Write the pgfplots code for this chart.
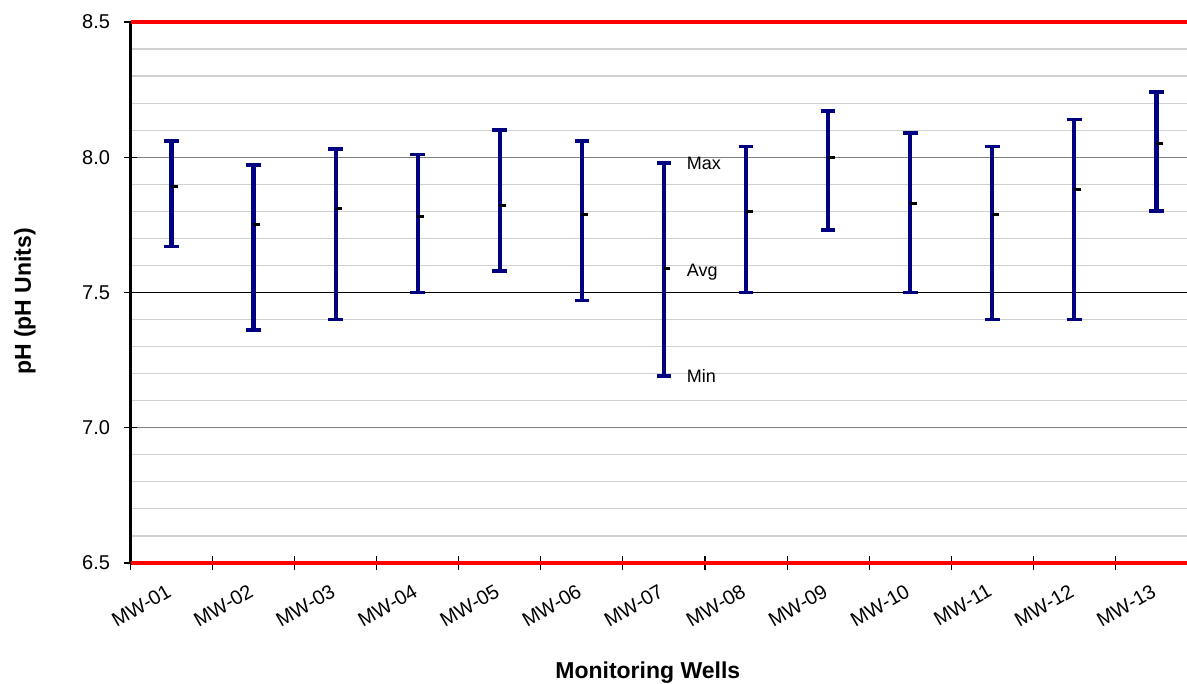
\documentclass[border=0pt]{standalone}
\usepackage{fontspec}
\setmainfont{Liberation Sans}
\usepackage{pgfplots}
\pgfplotsset{compat=1.18}
\usepackage{pgfplotstable}
\definecolor{navyb}{RGB}{0,0,128}
\definecolor{mgrid}{RGB}{128,128,128}
\definecolor{ngrid}{RGB}{208,208,208}
\pgfplotstableread{
x avg min max
0 7.89 7.67 8.06
1 7.75 7.36 7.97
2 7.81 7.40 8.03
3 7.78 7.50 8.01
4 7.82 7.58 8.10
5 7.79 7.47 8.06
6 7.59 7.19 7.98
7 7.80 7.50 8.04
8 8.00 7.73 8.17
9 7.83 7.50 8.09
10 7.79 7.40 8.04
11 7.88 7.40 8.14
12 8.05 7.80 8.24
}\ph
\begin{document}
\begin{tikzpicture}
\useasboundingbox (0,0) rectangle (890.25pt,513pt);
\begin{axis}[
  at={(97.875pt,90.75pt)}, anchor=south west,
  scale only axis, width=792.375pt, height=405.75pt,
  xmin=-0.5, xmax=12.373, ymin=6.5, ymax=8.5,
  clip=false,
  axis x line=bottom, axis y line=left,
  axis line style={-, black, line width=1.7pt},
  tick align=center, major tick length=9.75pt, minor tick length=0pt,
  tick style={black, line width=0.8pt},
  xtick={-0.5,0.5,1.5,2.5,3.5,4.5,5.5,6.5,7.5,8.5,9.5,10.5,11.5}, xticklabels={},
  extra x ticks={0,1,2,3,4,5,6,7,8,9,10,11,12},
  extra x tick labels={MW-01,MW-02,MW-03,MW-04,MW-05,MW-06,MW-07,MW-08,MW-09,MW-10,MW-11,MW-12,MW-13},
  extra x tick style={major tick length=0pt, tick style={draw=none},
     tick label style={yshift=-15pt, xshift=-4.5pt, rotate=30, anchor=north east, inner sep=0pt}},
  ytick={6.5,7,7.5,8,8.5}, minor y tick num=4,
  ymajorgrids, yminorgrids,
  major grid style={mgrid, line width=0.9pt},
  minor grid style={ngrid, line width=0.9pt},
  tick label style={font=\fontsize{15}{18}\selectfont},
  yticklabel style={xshift=-7pt, /pgf/number format/.cd, fixed, fixed zerofill, precision=1, assume math mode=true},
  xlabel={Monitoring Wells},
  xlabel style={at={(rel axis cs:0.4896,-0.2144)}, anchor=base, font=\fontsize{17.25}{20}\selectfont\bfseries},
  ylabel={pH (pH Units)},
  ylabel style={at={(rel axis cs:-0.0999,0.4834)}, anchor=center, font=\fontsize{17.25}{20}\selectfont\bfseries},
]
\addplot[black, line width=0.9pt, forget plot] coordinates {(-0.5,7.5) (12.373,7.5)};
\addplot[red, line width=3pt, forget plot] coordinates {(-0.5,8.5) (12.373,8.5)};
\addplot[red, line width=3pt, forget plot] coordinates {(-0.5,6.5) (12.373,6.5)};
\addplot[draw=none, mark=none, forget plot,
  error bars/.cd, y dir=both, y explicit,
  error bar style={draw=navyb, line width=3.2pt},
  error mark options={draw=navyb, rotate=90, line width=2.8pt, mark size=5.5pt}]
  table[x=x, y=avg, y error plus expr=\thisrow{max}-\thisrow{avg}, y error minus expr=\thisrow{avg}-\thisrow{min}] {\ph};
\addplot[only marks, mark=-, mark size=2.6pt, mark options={black, line width=2.25pt, xshift=2.25pt}]
  table[x=x, y=avg] {\ph};
\node[anchor=base west, inner sep=0pt, font=\fontsize{13.5}{16}\selectfont] at (axis cs:6.277,7.956) {Max};
\node[anchor=base west, inner sep=0pt, font=\fontsize{13.5}{16}\selectfont] at (axis cs:6.277,7.559) {Avg};
\node[anchor=base west, inner sep=0pt, font=\fontsize{13.5}{16}\selectfont] at (axis cs:6.277,7.167) {Min};
\end{axis}
\end{tikzpicture}
\end{document}
